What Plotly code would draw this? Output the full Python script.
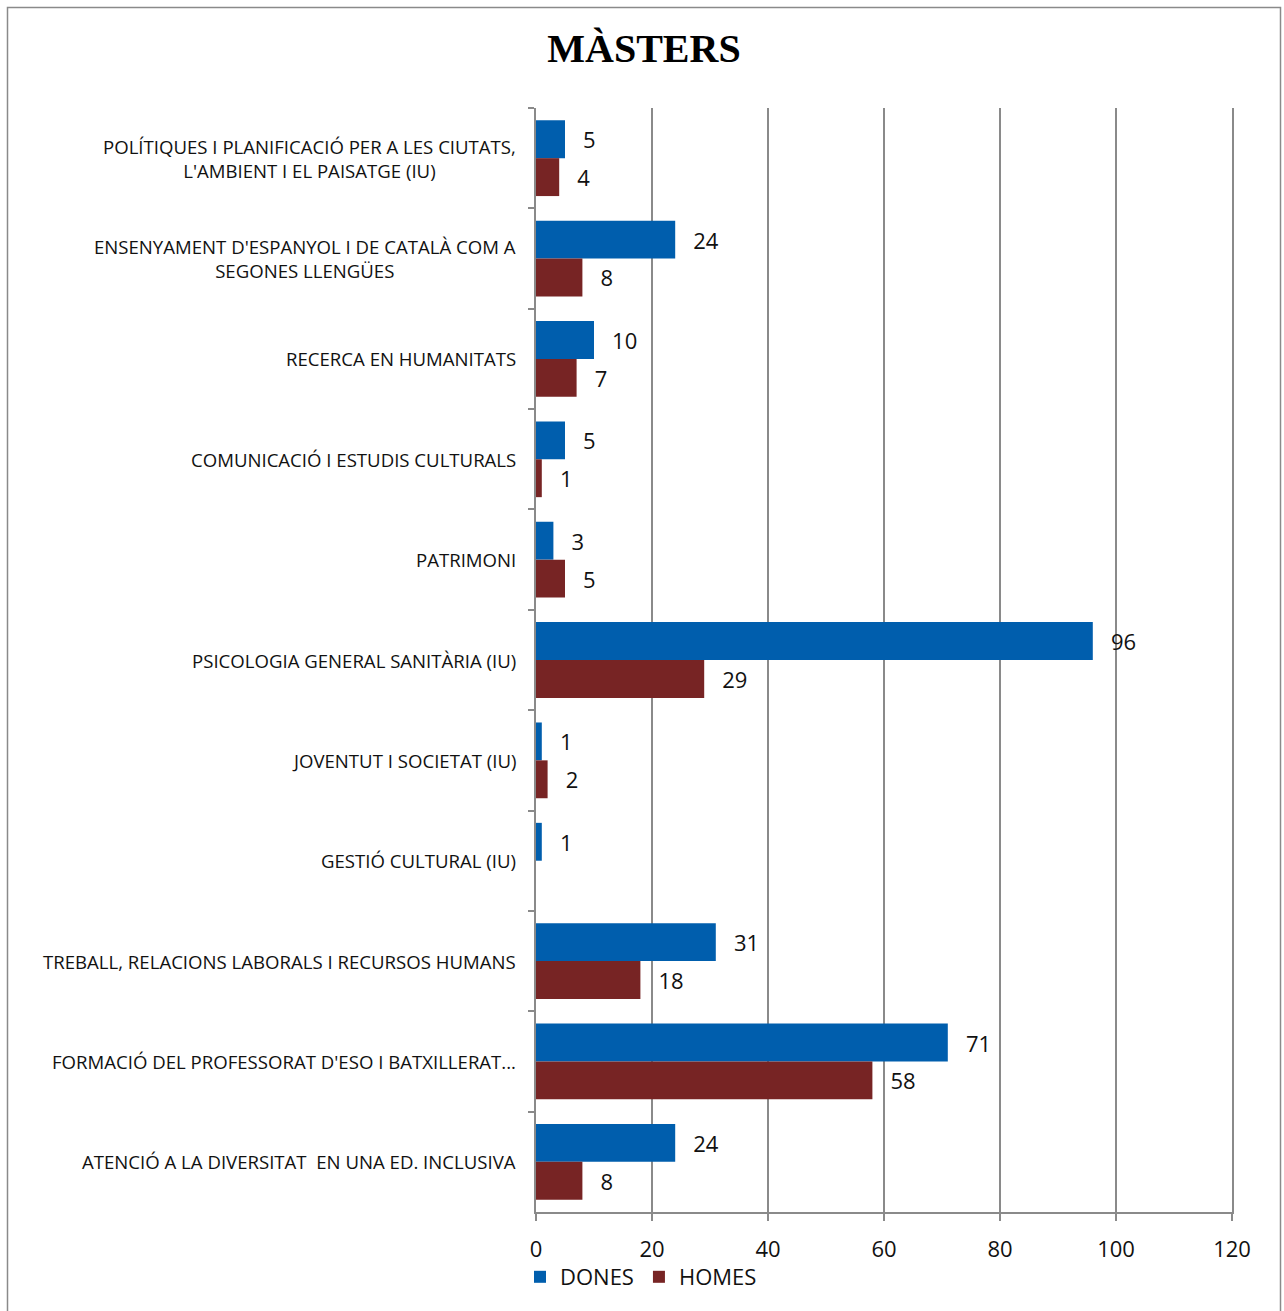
import plotly.graph_objects as go

categories = [
    "POLÍTIQUES I PLANIFICACIÓ PER A LES CIUTATS,<br>L'AMBIENT I EL PAISATGE (IU)",
    "ENSENYAMENT D'ESPANYOL I DE CATALÀ COM A<br>SEGONES LLENGÜES",
    "RECERCA EN HUMANITATS",
    "COMUNICACIÓ I ESTUDIS CULTURALS",
    "PATRIMONI",
    "PSICOLOGIA GENERAL SANITÀRIA (IU)",
    "JOVENTUT I SOCIETAT (IU)",
    "GESTIÓ CULTURAL (IU)",
    "TREBALL, RELACIONS LABORALS I RECURSOS HUMANS",
    "FORMACIÓ DEL PROFESSORAT D'ESO I BATXILLERAT...",
    "ATENCIÓ A LA DIVERSITAT\u00a0 EN UNA ED. INCLUSIVA",
]
dones = [5, 24, 10, 5, 3, 96, 1, 1, 31, 71, 24]
homes = [4, 8, 7, 1, 5, 29, 2, None, 18, 58, 8]
x_ticks = [0, 20, 40, 60, 80, 100, 120]

W, H = 1284, 1311
L, R, T, B = 536, 52, 108, 99
pw, ph = W - L - R, H - T - B

def px_x(p):
    return (p - L) / pw

def px_y(p):
    return (H - B - p) / ph

GRAY = "#8a8a8a"
FONT = "Open Sans, Liberation Sans, sans-serif"
pad = "\u00a0\u00a0\u2009"

fig = go.Figure()
fig.add_trace(go.Bar(
    y=categories, x=dones, name="DONES", orientation="h",
    marker=dict(color="#005ead", line=dict(width=0)),
    texttemplate=pad + "%{x}", textposition="outside", constraintext="none",
    textfont=dict(family=FONT, size=22, color="#111111"), cliponaxis=False,
))
fig.add_trace(go.Bar(
    y=categories, x=homes, name="HOMES", orientation="h",
    marker=dict(color="#772424", line=dict(width=0)),
    texttemplate=pad + "%{x}", textposition="outside", constraintext="none",
    textfont=dict(family=FONT, size=22, color="#111111"), cliponaxis=False,
))

for c in categories:
    fig.add_annotation(
        text=c, xref="paper", yref="y", x=px_x(518), y=c,
        xanchor="right", yanchor="middle", align="center", showarrow=False,
        font=dict(family=FONT, size=18.6, color="#111111"),
    )

fig.add_shape(
    type="rect", xref="paper", yref="paper",
    x0=px_x(7.5), x1=px_x(1280.5), y0=px_y(1330), y1=px_y(7.5),
    line=dict(color=GRAY, width=1.5), fillcolor="rgba(0,0,0,0)", layer="below",
)

fig.update_layout(
    width=W, height=H,
    margin=dict(l=L, r=R, t=T, b=B, pad=0),
    paper_bgcolor="white", plot_bgcolor="white",
    barmode="group", bargap=0.245, bargroupgap=0,
    title=dict(
        text="<b>MÀSTERS</b>", x=644 / W, xanchor="center",
        y=1 - 48 / H, yanchor="middle", yref="container",
        font=dict(family="Liberation Serif, Times New Roman, serif", size=40, color="#000000"),
    ),
    legend=dict(
        orientation="h", x=px_x(520), xanchor="left", y=px_y(1277), yanchor="middle",
        font=dict(family=FONT, size=22, color="#111111"),
        itemwidth=30, traceorder="normal", bgcolor="rgba(0,0,0,0)",
    ),
    xaxis=dict(
        range=[0, 120], tickvals=x_ticks, ticktext=[str(v) for v in x_ticks],
        showgrid=True, gridcolor=GRAY, gridwidth=1.5,
        showline=True, linecolor=GRAY, linewidth=1.5,
        ticks="outside", ticklen=7, tickcolor=GRAY, tickwidth=1.5,
        ticklabelstandoff=10, zeroline=False,
        tickfont=dict(family=FONT, size=22, color="#111111"),
    ),
    yaxis=dict(
        type="category", range=[len(categories) - 0.5, -0.5],
        showticklabels=False, showgrid=False,
        showline=True, linecolor=GRAY, linewidth=1.5, mirror=True,
        ticks="outside", ticklen=6, tickcolor=GRAY, tickwidth=1.5,
        tickson="boundaries", zeroline=False,
    ),
)

fig.write_html(
    "out.html",
    config={"displayModeBar": False},
    post_script="document.body.style.margin='0';document.body.style.overflow='hidden';",
)
